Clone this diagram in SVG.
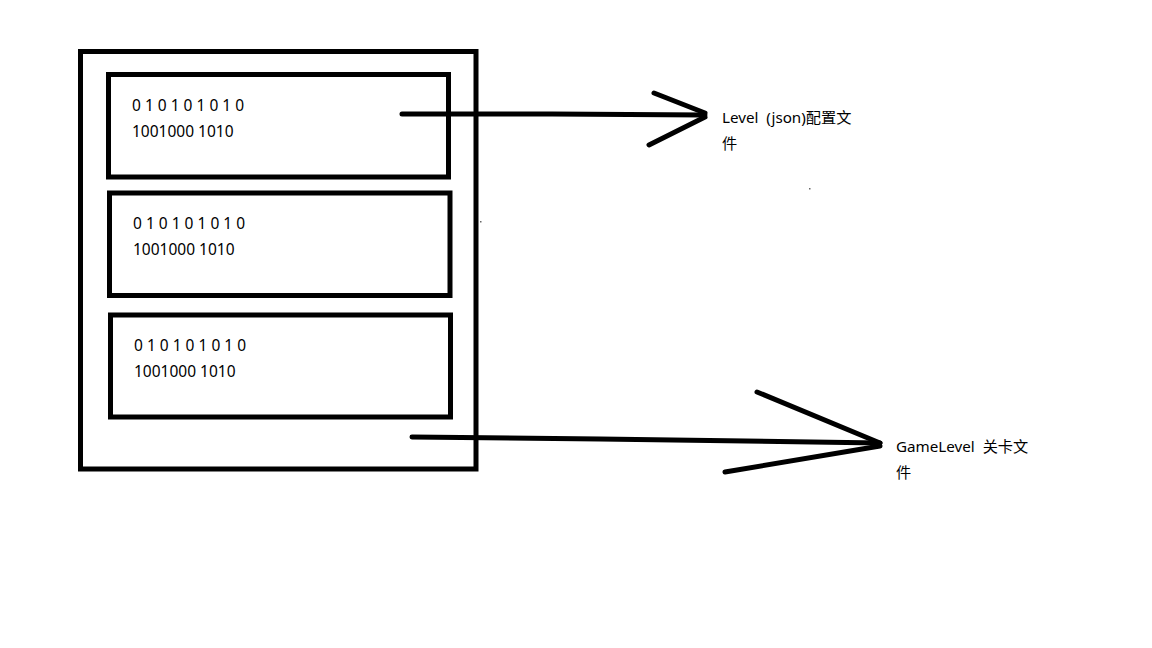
<svg xmlns="http://www.w3.org/2000/svg" width="1152" height="648" viewBox="0 0 1152 648">
<style>
.box{fill:none;stroke:#000;stroke-width:5}
.ln{fill:none;stroke:#000;stroke-width:5;stroke-linecap:round;stroke-linejoin:round}
.t{font-family:"Noto Sans","Noto Sans CJK SC",sans-serif;font-size:15.5px;fill:#000;white-space:pre}
.c{font-size:15.2px}
</style>
<rect width="1152" height="648" fill="#fff"/>
<g id="outer"><rect class="box" x="80.5" y="51.5" width="395.5" height="417.5"/></g>
<g id="block1"><rect class="box" x="108.5" y="74.5" width="340" height="102.5"/>
<text class="t" x="132" y="111">0 1 0 1 0 1 0 1 0</text><text class="t" x="132" y="137">1001000 1010</text></g>
<g id="block2"><rect class="box" x="109.5" y="193" width="340.5" height="102.5"/>
<text class="t" x="133" y="229">0 1 0 1 0 1 0 1 0</text><text class="t" x="133" y="255">1001000 1010</text></g>
<g id="block3"><rect class="box" x="110.5" y="315" width="340" height="102"/>
<text class="t" x="134" y="351">0 1 0 1 0 1 0 1 0</text><text class="t" x="134" y="377">1001000 1010</text></g>
<g id="level"><text class="t c" x="722" y="123" xml:space="preserve">Level  (json)配置文</text><text class="t c" x="722" y="149">件</text></g>
<g id="gamelevel"><text class="t c" x="896" y="452" xml:space="preserve">GameLevel  关卡文</text><text class="t c" x="896" y="478">件</text></g>
<g id="connectors">
<path class="ln" d="M402,114 L552,114 L705,115"/>
<path class="ln" d="M654,93 L705,113"/>
<path class="ln" d="M649,145 L705,117"/>
<path class="ln" d="M412,437 L600,439 L880,443"/>
<path class="ln" d="M757,392 L880,443"/>
<path class="ln" d="M725,472 L880,446"/>
</g>
<rect x="480" y="221" width="1.5" height="1.5" fill="#666"/>
<rect x="809" y="188" width="1.5" height="1.5" fill="#666"/>
</svg>
